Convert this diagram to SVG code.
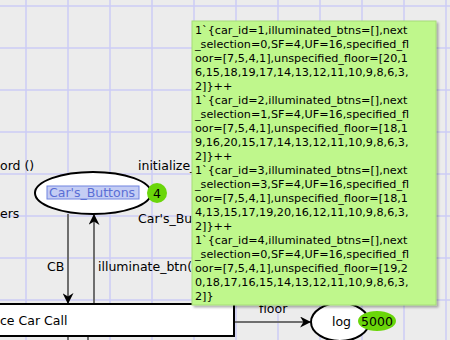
<svg xmlns="http://www.w3.org/2000/svg" width="450" height="340" viewBox="0 0 450 340">
  <defs>
    <marker id="arrow" viewBox="0 0 10 10" refX="9" refY="5" markerWidth="11" markerHeight="11" markerUnits="userSpaceOnUse" orient="auto">
      <path d="M0,0 L10,5 L0,10 L3,5 Z" fill="#000"/>
    </marker>
    <filter id="shadow" x="-5%" y="-5%" width="115%" height="115%">
      <feDropShadow dx="2" dy="2" stdDeviation="1" flood-color="#000" flood-opacity="0.3"/>
    </filter>
  </defs>
  <style>
    .grid { stroke: #cdcdf6; stroke-width: 1.5; }
    .lbl { font-family: "DejaVu Sans", Verdana, sans-serif; font-size: 12.5px; fill: #000; }
    .arc { stroke: #6e6e6e; stroke-width: 2; fill: none; }
    .place { fill: #fff; stroke: #000; stroke-width: 2; }
    .token { fill: #6ad60a; }
    .mark { font-family: "DejaVu Sans", Verdana, sans-serif; font-size: 11.2px; fill: #000; }
  </style>

  <rect width="450" height="340" fill="#ececec"/>

  <!-- background grid -->
  <g id="grid">
    <line class="grid" x1="26" y1="0" x2="26" y2="340"/>
    <line class="grid" x1="68" y1="0" x2="68" y2="340"/>
    <line class="grid" x1="110" y1="0" x2="110" y2="340"/>
    <line class="grid" x1="152" y1="0" x2="152" y2="340"/>
    <line class="grid" x1="194" y1="0" x2="194" y2="340"/>
    <line class="grid" x1="236" y1="0" x2="236" y2="340"/>
    <line class="grid" x1="278" y1="0" x2="278" y2="340"/>
    <line class="grid" x1="320" y1="0" x2="320" y2="340"/>
    <line class="grid" x1="362" y1="0" x2="362" y2="340"/>
    <line class="grid" x1="404" y1="0" x2="404" y2="340"/>
    <line class="grid" x1="446" y1="0" x2="446" y2="340"/>
    <line class="grid" x1="0" y1="6" x2="450" y2="6"/>
    <line class="grid" x1="0" y1="48" x2="450" y2="48"/>
    <line class="grid" x1="0" y1="90" x2="450" y2="90"/>
    <line class="grid" x1="0" y1="132" x2="450" y2="132"/>
    <line class="grid" x1="0" y1="174" x2="450" y2="174"/>
    <line class="grid" x1="0" y1="216" x2="450" y2="216"/>
    <line class="grid" x1="0" y1="258" x2="450" y2="258"/>
    <line class="grid" x1="0" y1="300" x2="450" y2="300"/>
  </g>

  <!-- labels of neighbouring arcs -->
  <g id="labels">
    <text class="lbl" x="0" y="170">ord ()</text>
    <text class="lbl" x="138" y="170">initialize_</text>
    <text class="lbl" x="0" y="218">ers</text>
    <text class="lbl" x="138" y="223">Car's_Bu</text>
  </g>

  <!-- connectors -->
  <g id="connectors">
    <line class="arc" x1="68" y1="214" x2="68" y2="303" marker-end="url(#arrow)"/>
    <line class="arc" x1="94" y1="304" x2="94" y2="215" marker-end="url(#arrow)"/>
    <line class="arc" x1="68" y1="336" x2="68" y2="340"/>
    <line class="arc" x1="88" y1="336" x2="88" y2="340"/>
    <line class="arc" x1="234" y1="322" x2="310" y2="322" marker-end="url(#arrow)"/>
    <text class="lbl" x="47" y="271">CB</text>
    <text class="lbl" x="98" y="271">illuminate_btn(</text>
    <text class="lbl" x="259" y="313">floor</text>
  </g>

  <!-- place Car's_Buttons -->
  <g id="place-cars-buttons">
    <ellipse class="place" cx="93" cy="193" rx="58" ry="21"/>
    <rect x="47" y="186" width="92" height="13" fill="#c4cdf4" stroke="#7084e0" stroke-width="1"/>
    <text x="49" y="197" font-family="DejaVu Sans, Verdana, sans-serif" font-size="12.5" fill="#5a6ed4">Car's_Buttons</text>
    <circle class="token" cx="157" cy="193" r="10"/>
    <text class="lbl" x="157" y="197.5" text-anchor="middle">4</text>
  </g>

  <!-- transition -->
  <g id="transition-car-call">
    <rect x="-10" y="304" width="244" height="32" fill="#fff" stroke="#000" stroke-width="2"/>
    <text class="lbl" x="0" y="325">ce Car Call</text>
  </g>

  <!-- place log -->
  <g id="place-log">
    <ellipse class="place" cx="340" cy="322" rx="29" ry="19"/>
    <text class="lbl" x="332" y="326">log</text>
    <ellipse class="token" cx="377" cy="321" rx="19" ry="10"/>
    <text class="lbl" x="377" y="325.5" text-anchor="middle">5000</text>
  </g>

  <!-- current marking of Car's_Buttons -->
  <g id="marking">
    <rect x="192" y="21" width="244" height="284" fill="#bff78c" stroke="#a6dc78" stroke-width="1" filter="url(#shadow)"/>
    <text class="mark" x="195">
      <tspan x="195" y="34">1`{car_id=1,illuminated_btns=[],next</tspan>
      <tspan x="195" y="48">_selection=0,SF=4,UF=16,specified_fl</tspan>
      <tspan x="195" y="62">oor=[7,5,4,1],unspecified_floor=[20,1</tspan>
      <tspan x="195" y="76">6,15,18,19,17,14,13,12,11,10,9,8,6,3,</tspan>
      <tspan x="195" y="90">2]}++</tspan>
      <tspan x="195" y="104">1`{car_id=2,illuminated_btns=[],next</tspan>
      <tspan x="195" y="118">_selection=1,SF=4,UF=16,specified_fl</tspan>
      <tspan x="195" y="132">oor=[7,5,4,1],unspecified_floor=[18,1</tspan>
      <tspan x="195" y="146">9,16,20,15,17,14,13,12,11,10,9,8,6,3,</tspan>
      <tspan x="195" y="160">2]}++</tspan>
      <tspan x="195" y="174">1`{car_id=3,illuminated_btns=[],next</tspan>
      <tspan x="195" y="188">_selection=3,SF=4,UF=16,specified_fl</tspan>
      <tspan x="195" y="202">oor=[7,5,4,1],unspecified_floor=[18,1</tspan>
      <tspan x="195" y="216">4,13,15,17,19,20,16,12,11,10,9,8,6,3,</tspan>
      <tspan x="195" y="230">2]}++</tspan>
      <tspan x="195" y="244">1`{car_id=4,illuminated_btns=[],next</tspan>
      <tspan x="195" y="258">_selection=0,SF=4,UF=16,specified_fl</tspan>
      <tspan x="195" y="272">oor=[7,5,4,1],unspecified_floor=[19,2</tspan>
      <tspan x="195" y="286">0,18,17,16,15,14,13,12,11,10,9,8,6,3,</tspan>
      <tspan x="195" y="300">2]}</tspan>
    </text>
  </g>
</svg>
